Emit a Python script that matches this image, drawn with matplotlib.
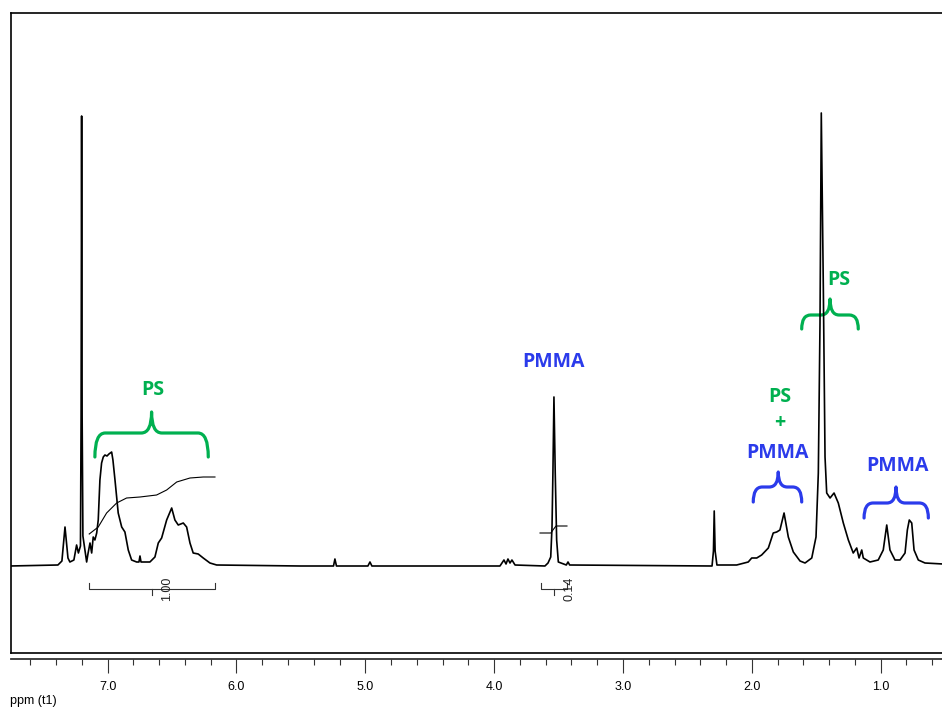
import matplotlib
matplotlib.use("Agg")
import matplotlib.pyplot as plt
from matplotlib.path import Path
from matplotlib.patches import PathPatch
from matplotlib.ticker import MultipleLocator, FormatStrFormatter

# spectrum trace (ppm, arbitrary intensity)
shift_ppm = [
    7.760, 7.386, 7.355, 7.331, 7.308, 7.293, 7.262, 7.241, 7.227, 7.211,
    7.206, 7.202, 7.198, 7.192, 7.163, 7.153, 7.137, 7.124, 7.112, 7.099,
    7.085, 7.073, 7.060, 7.047, 7.034, 7.021, 7.005, 6.990, 6.969, 6.959,
    6.943, 6.918, 6.891, 6.866, 6.840, 6.814, 6.775, 6.757, 6.749, 6.741,
    6.672, 6.633, 6.607, 6.581, 6.542, 6.503, 6.478, 6.452, 6.413, 6.387,
    6.361, 6.336, 6.297, 6.258, 6.206, 6.154, 5.507, 5.247, 5.236, 5.224,
    4.980, 4.964, 4.949, 3.955, 3.924, 3.908, 3.893, 3.877, 3.862, 3.838,
    3.606, 3.582, 3.561, 3.551, 3.544, 3.536, 3.526, 3.515, 3.502, 3.440,
    3.427, 3.414, 2.309, 2.298, 2.292, 2.285, 2.271, 2.118, 2.028, 2.001,
    1.962, 1.924, 1.872, 1.834, 1.807, 1.782, 1.750, 1.717, 1.678, 1.626,
    1.587, 1.535, 1.502, 1.484, 1.471, 1.461, 1.445, 1.432, 1.419, 1.393,
    1.362, 1.329, 1.290, 1.251, 1.213, 1.186, 1.168, 1.147, 1.135, 1.083,
    1.019, 0.980, 0.953, 0.928, 0.889, 0.850, 0.811, 0.793, 0.778, 0.759,
    0.741, 0.708, 0.656, 0.524, 0.460]
intensity = [
    0.00, 0.01, 0.05, 0.39, 0.08, 0.04, 0.06, 0.21, 0.13, 0.20,
    1.50, 4.50, 1.50, 0.30, 0.04, 0.12, 0.23, 0.13, 0.29, 0.26,
    0.33, 0.46, 0.86, 1.03, 1.09, 1.11, 1.10, 1.12, 1.14, 1.06,
    0.86, 0.53, 0.39, 0.34, 0.16, 0.06, 0.04, 0.04, 0.10, 0.04,
    0.04, 0.09, 0.23, 0.28, 0.46, 0.58, 0.46, 0.41, 0.43, 0.39,
    0.23, 0.13, 0.12, 0.08, 0.03, 0.01, 0.00, 0.00, 0.07, 0.00,
    0.00, 0.04, 0.00, 0.00, 0.06, 0.02, 0.07, 0.03, 0.06, 0.01,
    0.00, 0.03, 0.09, 0.39, 0.93, 1.69, 0.93, 0.26, 0.04, 0.01,
    0.04, 0.01, 0.00, 0.15, 0.55, 0.15, 0.01, 0.01, 0.04, 0.08,
    0.08, 0.11, 0.18, 0.33, 0.34, 0.36, 0.53, 0.29, 0.14, 0.05,
    0.03, 0.08, 0.29, 0.93, 2.43, 4.53, 2.76, 1.09, 0.73, 0.68,
    0.73, 0.63, 0.43, 0.26, 0.13, 0.18, 0.08, 0.16, 0.08, 0.04,
    0.06, 0.16, 0.41, 0.16, 0.06, 0.06, 0.13, 0.36, 0.46, 0.43,
    0.16, 0.06, 0.03, 0.02, 0.02]

# integral curves
int_ps_ppm = [7.143, 7.073, 7.008, 6.930, 6.853, 6.749, 6.620, 6.542, 6.464, 6.361, 6.258, 6.167]
int_ps_val = [0.32, 0.39, 0.53, 0.63, 0.68, 0.69, 0.71, 0.76, 0.84, 0.88, 0.89, 0.89]
int_pmma_ppm = [3.644, 3.559, 3.544, 3.520, 3.435]
int_pmma_val = [0.33, 0.33, 0.36, 0.40, 0.40]

# integration regions: (start, end, mark, label)
int_regions = [(7.143, 6.167, 6.659, "1.00"), (3.639, 3.435, 3.536, "0.14")]

green = "#00B050"
blue = "#2B3BEB"

fig = plt.figure(figsize=(9.42, 7.07), dpi=100)
W, H = 942.0, 707.0
x_left, x_right = 10.5, 950.0
ax = fig.add_axes([x_left / W, (H - 653) / H, (x_right - x_left) / W, 640 / H])
ax2 = fig.add_axes([x_left / W, (H - 659) / H, (x_right - x_left) / W, 0.001])

xlim = (7.754, 0.462)
ax.set_xlim(*xlim)
ax.set_ylim(-0.87, 5.53)
ax.set_xticks([])
ax.set_yticks([])
for s in ax.spines.values():
    s.set_linewidth(1.2)
    s.set_color("black")

ax.plot(shift_ppm, intensity, color="black", lw=1.2)
ax.plot(int_ps_ppm, int_ps_val, color="black", lw=0.8)
ax.plot(int_pmma_ppm, int_pmma_val, color="black", lw=0.8)

for a, b, m, lab in int_regions:
    ax.plot([a, a, b, b], [-0.17, -0.23, -0.23, -0.17], color="#333333", lw=0.8)
    ax.plot([m, m], [-0.23, -0.29], color="#333333", lw=0.8)
    ax.text(m - 0.12, -0.23, lab, rotation=90, ha="center", va="center",
            fontsize=9, family="Liberation Sans", color="#222222")


def brace(x0, x1, xm, y0, y1, y2, color, r=0.07):
    verts = [(x0, y0), (x0, y1), (x0 - r, y1),
             (xm + r, y1), (xm, y1), (xm, y2),
             (xm, y1), (xm - r, y1),
             (x1 + r, y1), (x1, y1), (x1, y0)]
    codes = [Path.MOVETO, Path.CURVE3, Path.CURVE3,
             Path.LINETO, Path.CURVE3, Path.CURVE3,
             Path.CURVE3, Path.CURVE3,
             Path.LINETO, Path.CURVE3, Path.CURVE3]
    ax.add_patch(PathPatch(Path(verts, codes), fill=False, edgecolor=color,
                           lw=2.3, capstyle="round", joinstyle="round"))


lab_font = dict(family="Open Sans", fontweight="bold", fontsize=14, ha="center", va="center")

brace(7.099, 6.219, 6.659, 1.09, 1.33, 1.54, green, r=0.08)
ax.text(6.651, 1.76, "PS", color=green, **lab_font)

ax.text(3.536, 2.04, "PMMA", color=blue, **lab_font)

brace(1.989, 1.613, 1.795, 0.64, 0.79, 0.94, blue)
ax.text(1.782, 1.69, "PS", color=green, **lab_font)
ax.text(1.782, 1.43, "+", color=green, **lab_font)
ax.text(1.802, 1.13, "PMMA", color=blue, **lab_font)

brace(1.613, 1.174, 1.393, 2.37, 2.51, 2.67, green)
ax.text(1.323, 2.86, "PS", color=green, **lab_font)

brace(1.129, 0.630, 0.881, 0.48, 0.63, 0.79, blue)
ax.text(0.871, 1.00, "PMMA", color=blue, **lab_font)

# ppm scale below the frame
ax2.set_xlim(*xlim)
ax2.patch.set_visible(False)
ax2.set_yticks([])
for side in ["top", "left", "right"]:
    ax2.spines[side].set_visible(False)
ax2.spines["bottom"].set_color("#333333")
ax2.spines["bottom"].set_linewidth(1.3)
ax2.xaxis.set_major_locator(MultipleLocator(1.0))
ax2.xaxis.set_minor_locator(MultipleLocator(0.2))
ax2.xaxis.set_major_formatter(FormatStrFormatter("%.1f"))
ax2.tick_params(axis="x", which="major", length=10, width=0.8, color="#333333",
                pad=6, labelsize=9)
ax2.tick_params(axis="x", which="minor", length=4.3, width=0.8, color="#333333")
for t in ax2.get_xticklabels():
    t.set_family("Liberation Sans")

fig.text(10 / W, (H - 701) / H, "ppm (t1)", fontsize=9, family="Liberation Sans",
         ha="left", va="center")

fig.savefig("out.png", dpi=100)
